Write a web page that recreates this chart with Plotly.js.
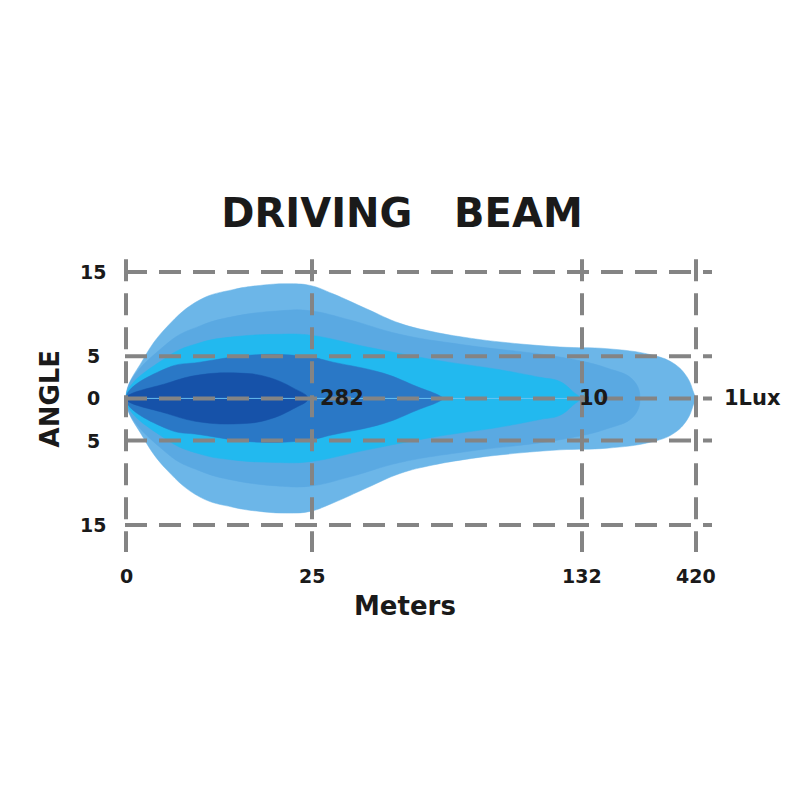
<!DOCTYPE html>
<html>
<head>
<meta charset="utf-8">
<script src="https://cdn.plot.ly/plotly-3.0.1.min.js"></script>
<style>html,body{margin:0;padding:0;background:#fff;}#chart{width:800px;height:800px;}</style>
</head>
<body>
<div id="chart"></div>
<script>
// Axis ticks (x = position along the beam chart, labelled in meters)
const xTickVals = [0, 186, 456, 570];
const xTickText = ['0', '25', '132', '420'];
const yTickVals = [15, 5, 0, -5, -15];
const yTickText = ['15', '5', '0', '5', '15'];

// Beam contours, upper half (x = chart position, y = angle in degrees)
const outerX = [0, 17, 41, 74, 107, 134, 161, 184, 207, 241, 274, 307, 341, 374, 434, 481, 524, 547, 561, 567, 569];
const outerY = [0, 4.6, 8.5, 11.7, 12.9, 13.4, 13.6, 13.4, 12.4, 10.6, 8.9, 7.9, 7.2, 6.7, 6.1, 5.9, 5.2, 4.2, 2.55, 0.9, 0];
const lvl2X = [0, 41, 74, 107, 154, 184, 224, 274, 341, 434, 481, 507, 514];
const lvl2Y = [0, 6.5, 8.6, 9.7, 10.4, 10.4, 9.3, 7.6, 6.3, 4.9, 3.6, 2.2, 0];
const lvl3X = [0, 41, 74, 107, 150, 184, 241, 307, 374, 414, 434, 447, 454];
const lvl3Y = [0, 4.9, 6.6, 7.3, 7.6, 7.5, 6.1, 4.6, 3.4, 2.5, 2.0, 0.8, 0];
const lvl4X = [0, 41, 74, 134, 184, 207, 257, 291, 314, 317];
const lvl4Y = [0, 3.6, 4.3, 5.2, 4.9, 4.3, 3.0, 1.4, 0.3, 0];
const lvl5X = [0, 41, 74, 114, 141, 167, 182];
const lvl5Y = [0, 1.8, 2.8, 3.0, 2.55, 1.25, 0];

const beamColors = ['#6cb6e8', '#5aa9e2', '#22b9ef', '#2a78c6', '#1652a9'];

// Lux labels
const luxText = ['282', '10', '1Lux'];
const luxX = [216, 467, 626];

const titleText = 'DRIVING\u00a0\u00a0\u00a0BEAM';
const xTitle = 'Meters';
const yTitle = 'ANGLE';

function closedShape(xs, ys) {
  const X = xs.slice(), Y = ys.slice();
  for (let i = xs.length - 2; i >= 0; i--) { X.push(xs[i]); Y.push(-ys[i]); }
  return {X, Y};
}

const traces = [];
[[outerX, outerY], [lvl2X, lvl2Y], [lvl3X, lvl3Y], [lvl4X, lvl4Y], [lvl5X, lvl5Y]].forEach((p, i) => {
  const s = closedShape(p[0], p[1]);
  traces.push({
    x: s.X, y: s.Y, type: 'scatter', mode: 'lines', fill: 'toself',
    fillcolor: beamColors[i], line: {width: 0.5, shape: 'spline', smoothing: 1.2, color: beamColors[i]},
    hoverinfo: 'skip', showlegend: false
  });
});

// thin centre line
traces.push({x: [0, xTickVals[2] - 2], y: [0, 0], type: 'scatter', mode: 'lines',
  line: {color: 'rgba(110,200,245,0.9)', width: 1}, hoverinfo: 'skip', showlegend: false});

const gray = '#848484';
const dashPat = '22px,12px';
const xMin = -1, xMax = 586, yTop = 16.5, yBot = -18.2;
yTickVals.forEach(v => {
  traces.push({x: [xMin, xMax], y: [v, v], type: 'scatter', mode: 'lines',
    line: {color: gray, width: 4, dash: dashPat}, hoverinfo: 'skip', showlegend: false});
});
xTickVals.forEach(v => {
  traces.push({x: [v, v], y: [yTop, yBot], type: 'scatter', mode: 'lines',
    line: {color: gray, width: 4, dash: dashPat}, hoverinfo: 'skip', showlegend: false});
});

// geometry helpers: plot area spans px 100..720 (x) and 250..560 (y)
const X0 = -26, X1 = 594, Y0 = -19.16, Y1 = 17.6;
const px = v => (v - X0) / (X1 - X0);          // data x -> paper x
const py = v => (v - Y0) / (Y1 - Y0);          // data y -> paper y

const fontFam = 'DejaVu Sans, Verdana, sans-serif';
const txtColor = '#1a1a1a';
const annotations = [];
xTickVals.forEach((v, i) => annotations.push({x: px(v), y: py(-21.1), xref: 'paper', yref: 'paper', text: xTickText[i],
  showarrow: false, xanchor: 'center', yanchor: 'middle', font: {family: fontFam, size: 19, weight: 'bold', color: txtColor}}));
yTickVals.forEach((v, i) => annotations.push({x: px(-33), y: py(v), xref: 'paper', yref: 'paper', text: yTickText[i],
  showarrow: false, xanchor: 'center', yanchor: 'middle', font: {family: fontFam, size: 19, weight: 'bold', color: txtColor}}));
luxText.forEach((t, i) => annotations.push({x: px(luxX[i]), y: py(0), xref: 'paper', yref: 'paper', text: t,
  showarrow: false, xanchor: 'center', yanchor: 'middle', font: {family: fontFam, size: 21, weight: 'bold', color: txtColor}}));
annotations.push({x: px(279), y: py(-24.6), xref: 'paper', yref: 'paper', text: xTitle, showarrow: false,
  xanchor: 'center', yanchor: 'middle', font: {family: fontFam, size: 26, weight: 'bold', color: txtColor}});
annotations.push({x: px(-76), y: py(0), xref: 'paper', yref: 'paper', text: yTitle, showarrow: false, textangle: -90,
  xanchor: 'center', yanchor: 'middle', font: {family: fontFam, size: 26, weight: 'bold', color: txtColor}});

const layout = {
  width: 800, height: 800,
  paper_bgcolor: '#ffffff', plot_bgcolor: '#ffffff',
  margin: {l: 100, r: 80, t: 250, b: 240},
  title: {text: titleText, x: 0.5025, xref: 'container', xanchor: 'center', y: 1 - 213 / 800, yref: 'container', yanchor: 'middle',
    font: {family: fontFam, size: 40, weight: 'bold', color: txtColor}},
  xaxis: {range: [X0, X1], showgrid: false, zeroline: false, showticklabels: false, showline: false, ticks: '', fixedrange: true},
  yaxis: {range: [Y0, Y1], showgrid: false, zeroline: false, showticklabels: false, showline: false, ticks: '', fixedrange: true},
  annotations: annotations,
  showlegend: false
};

Plotly.newPlot('chart', traces, layout, {staticPlot: true, displayModeBar: false});
</script>
</body>
</html>
